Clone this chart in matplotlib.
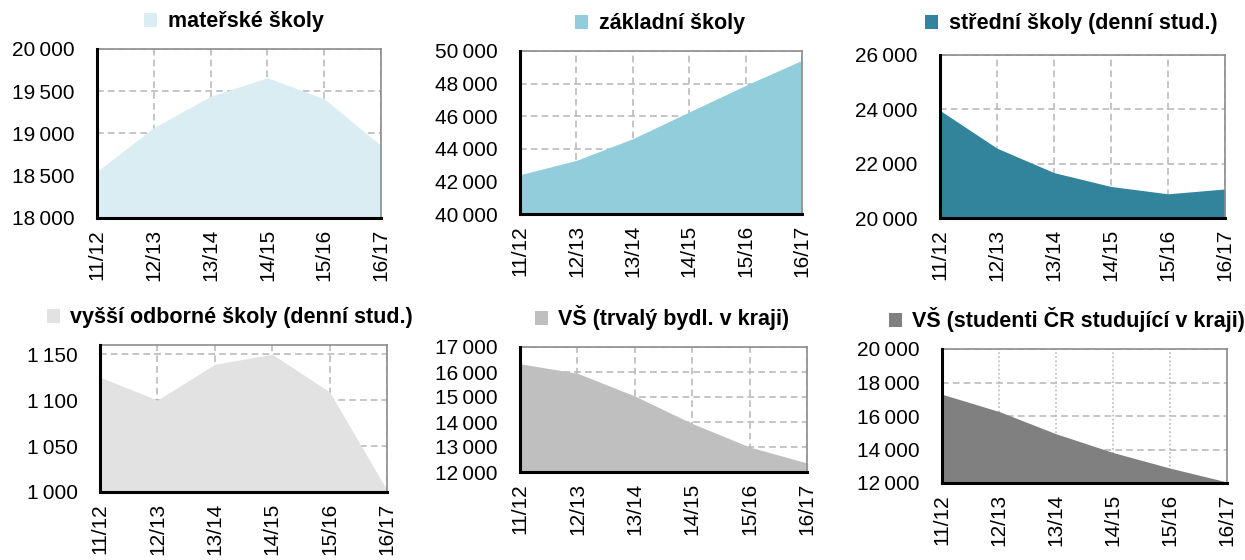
import matplotlib.pyplot as plt
from matplotlib.patches import Patch

plt.rcParams['font.family'] = ['Liberation Sans', 'DejaVu Sans']

# data
years = ["11/12", "12/13", "13/14", "14/15", "15/16", "16/17"]

materske = [18550, 19070, 19440, 19660, 19410, 18860]
zakladni = [42410, 43290, 44620, 46260, 47890, 49430]
stredni = [23960, 22570, 21670, 21160, 20890, 21070]
vyssi_odborne = [1125, 1100, 1139, 1150, 1109, 1002]
vs_bydliste = [16330, 15950, 15040, 13940, 13000, 12360]
vs_studujici = [17300, 16270, 14940, 13820, 12890, 12060]

titles = ["mateřské školy", "základní školy", "střední školy (denní stud.)",
          "vyšší odborné školy (denní stud.)", "VŠ (trvalý bydl. v kraji)",
          "VŠ (studenti ČR studující v kraji)"]
series = [materske, zakladni, stredni, vyssi_odborne, vs_bydliste, vs_studujici]
colors = ["#DAEDF3", "#92CDDC", "#31849B", "#E2E2E2", "#BFBFBF", "#808080"]
ylims = [(18000, 20000), (40000, 50000), (20000, 26000), (1000, 1160), (12000, 17000), (12000, 20000)]
ysteps = [500, 2000, 2000, 50, 1000, 2000]

# axes boxes in pixels: left, top, right, bottom
boxes = [(97, 49, 381, 218), (520, 51, 802, 214), (940, 55, 1225, 218),
         (100, 345, 387, 492), (520, 347, 807, 472), (942, 349, 1227, 483)]
# legend centre in pixels
legend_pos = [(234, 22), (660, 24), (1071, 24), (230, 318), (662, 318), (1067, 320)]

W, H = 1245, 560
fig = plt.figure(figsize=(W / 100, H / 100), dpi=100)

for i in range(6):
    l, t, r, b = boxes[i]
    ax = fig.add_axes([l / W, 1 - b / H, (r - l) / W, (b - t) / H])
    x = range(len(years))
    ax.fill_between(x, ylims[i][0], series[i], color=colors[i], lw=0, zorder=2)
    ax.set_xlim(0, len(years) - 1)
    ax.set_ylim(*ylims[i])
    lo, hi = ylims[i]
    ticks = list(range(lo, hi + 1, ysteps[i]))
    ax.set_yticks(ticks)
    ax.set_yticklabels([f"{v:,}".replace(",", "\u2009") for v in ticks], fontsize=15)
    ax.set_xticks(list(x))
    ax.set_xticklabels(years, rotation=90, fontsize=15)
    ax.tick_params(length=0)
    ax.tick_params(axis='y', pad=16)
    ax.tick_params(axis='x', pad=8)
    ax.grid(True, axis='y', color="#BBBBBB", ls=(0, (4, 2.5)), lw=1.2, zorder=1)
    xls = (0, (1, 1.5)) if i == 5 else (0, (4, 2.5))
    ax.grid(True, axis='x', color="#BBBBBB", ls=xls, lw=1.2, zorder=1)
    for s in ["top", "right"]:
        ax.spines[s].set_color("#8C8C8C")
        ax.spines[s].set_linewidth(1.2)
    for s in ["left", "bottom"]:
        ax.spines[s].set_color("black")
        ax.spines[s].set_linewidth(2.2)
        ax.spines[s].set_zorder(5)
    lx, ly = legend_pos[i]
    fig.legend(handles=[Patch(facecolor=colors[i], edgecolor='none', label=titles[i])],
               loc='center', bbox_to_anchor=(lx / W, 1 - ly / H), frameon=False,
               handlelength=0.6, handleheight=0.6, handletextpad=0.5,
               prop={'weight': 'bold', 'size': 15.5}, borderpad=0)

fig.savefig("out.png", dpi=100)
